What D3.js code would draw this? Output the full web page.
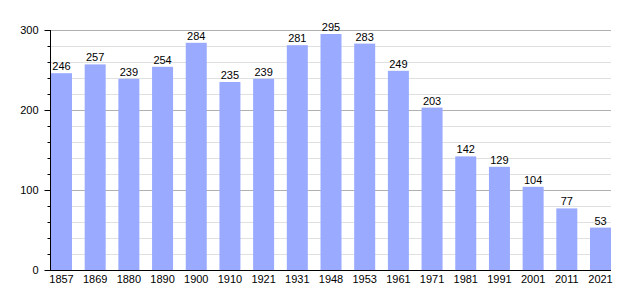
<!DOCTYPE html>
<html>
<head>
<meta charset="utf-8">
<script src="https://cdn.jsdelivr.net/npm/d3@7"></script>
<style>
  body { margin: 0; background: #fff; }
  text { font-family: "Liberation Sans", Arial, sans-serif; font-size: 11px; fill: #000; }
</style>
</head>
<body>
<svg width="640" height="300"></svg>
<script>
var years = ["1857","1869","1880","1890","1900","1910","1921","1931","1948","1953","1961","1971","1981","1991","2001","2011","2021"];
var population = [246,257,239,254,284,235,239,281,295,283,249,203,142,129,104,77,53];
var majorTicks = [0, 100, 200, 300];
var minorTicks = d3.range(0, 301, 20);

var svg = d3.select("svg"),
    plotLeft = 50, plotRight = 611, plotTop = 30, plotBottom = 270;

var x = d3.scaleBand()
    .domain(years)
    .range([plotLeft + 1, plotRight])
    .paddingInner(0.377)
    .paddingOuter(0);

var y = d3.scaleLinear()
    .domain([0, 300])
    .range([plotBottom, plotTop]);

// minor grid
svg.append("g").selectAll("line")
  .data(minorTicks.filter(function(d) { return d % 100 != 0; }))
  .enter().append("line")
    .attr("x1", plotLeft).attr("x2", plotRight)
    .attr("y1", function(d) { return y(d) + 0.5; })
    .attr("y2", function(d) { return y(d) + 0.5; })
    .attr("stroke", "#e0e0e0");

// major grid
svg.append("g").selectAll("line")
  .data(majorTicks.filter(function(d) { return d > 0; }))
  .enter().append("line")
    .attr("x1", plotLeft).attr("x2", plotRight)
    .attr("y1", function(d) { return y(d) + 0.5; })
    .attr("y2", function(d) { return y(d) + 0.5; })
    .attr("stroke", "#b0b0b0");

// bars
svg.append("g").selectAll("rect")
  .data(population)
  .enter().append("rect")
    .attr("x", function(d, i) { return x(years[i]); })
    .attr("width", x.bandwidth())
    .attr("y", function(d) { return y(d); })
    .attr("height", function(d) { return plotBottom - y(d); })
    .attr("fill", "#99aaff");

// value labels
svg.append("g").selectAll("text")
  .data(population)
  .enter().append("text")
    .attr("x", function(d, i) { return x(years[i]) + x.bandwidth() / 2; })
    .attr("y", function(d) { return y(d) - 3; })
    .attr("text-anchor", "middle")
    .text(function(d) { return d; });

// y axis with minor ticks
var yMinor = d3.axisLeft(y).tickValues(minorTicks).tickSize(3).tickFormat("");
svg.append("g")
    .attr("transform", "translate(" + (plotLeft + 0.5) + ",0)")
    .call(yMinor)
    .call(function(g) { g.select(".domain").remove(); });

var yAxis = d3.axisLeft(y).tickValues(majorTicks).tickSize(6).tickPadding(6);
svg.append("g")
    .attr("transform", "translate(" + (plotLeft + 0.5) + ",0)")
    .call(yAxis)
    .call(function(g) {
      g.select(".domain").attr("d", "M0," + plotTop + "V" + plotBottom).attr("stroke", "#000");
    });

// x axis
var xAxis = d3.axisBottom(x).tickSize(0).tickPadding(5);
svg.append("g")
    .attr("transform", "translate(0," + (plotBottom + 0.5) + ")")
    .call(xAxis)
    .call(function(g) {
      g.select(".domain").attr("d", "M" + plotLeft + ",0H" + plotRight).attr("stroke", "#000");
    });
svg.selectAll("g").attr("font-family", null).attr("font-size", null);
</script>
</body>
</html>
